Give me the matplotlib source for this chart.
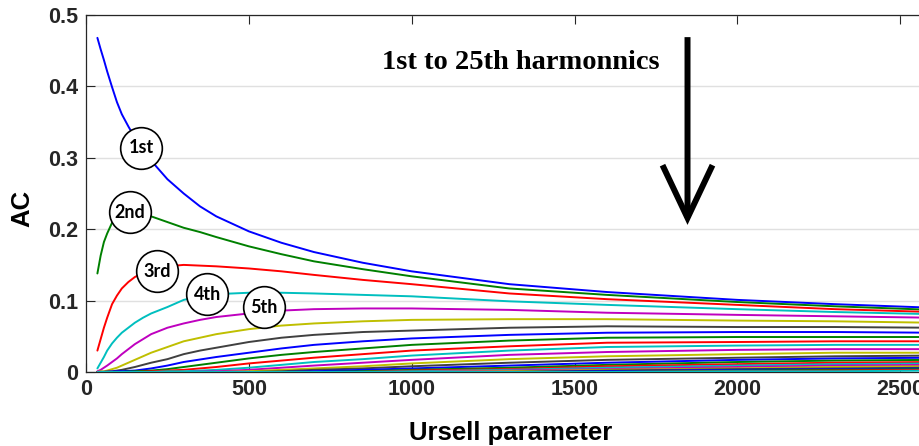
import matplotlib
matplotlib.use("Agg")
import matplotlib.pyplot as plt

# ---------------- data ----------------
# finer sampling for the low harmonics (strong curvature at small Ursell numbers)
ursell_a = [35, 45, 55, 65, 80, 95, 110, 130, 150, 175, 200, 250, 300, 350, 400, 500,
            600, 700, 850, 1000, 1300, 1600, 2000, 2300, 2600]
# coarser sampling for the higher harmonics
ursell_b = [35, 100, 150, 200, 250, 300, 400, 500, 600, 700, 850, 1000, 1300, 1600, 2000, 2300, 2600]

ac_h01 = [0.468, 0.452, 0.437, 0.421, 0.399, 0.378, 0.361, 0.344, 0.328, 0.311, 0.296, 0.270, 0.250,
          0.232, 0.218, 0.197, 0.181, 0.168, 0.153, 0.141, 0.123, 0.112, 0.101, 0.095, 0.090]
ac_h02 = [0.138, 0.163, 0.182, 0.194, 0.209, 0.216, 0.220, 0.222, 0.222, 0.221, 0.218, 0.210, 0.202,
          0.196, 0.189, 0.176, 0.165, 0.155, 0.144, 0.134, 0.117, 0.108, 0.098, 0.092, 0.087]
ac_h03 = [0.030, 0.046, 0.062, 0.076, 0.095, 0.107, 0.117, 0.126, 0.133, 0.139, 0.143, 0.148, 0.150,
          0.149, 0.148, 0.145, 0.141, 0.136, 0.129, 0.123, 0.110, 0.102, 0.094, 0.088, 0.084]
ac_h04 = [0.005, 0.013, 0.021, 0.030, 0.040, 0.048, 0.055, 0.062, 0.069, 0.076, 0.082, 0.091, 0.101,
          0.106, 0.109, 0.111, 0.111, 0.110, 0.108, 0.106, 0.099, 0.094, 0.088, 0.084, 0.081]
ac_h05 = [0.001, 0.003, 0.006, 0.009, 0.014, 0.019, 0.025, 0.032, 0.039, 0.046, 0.053, 0.062, 0.068,
          0.073, 0.077, 0.082, 0.086, 0.088, 0.089, 0.089, 0.087, 0.083, 0.080, 0.078, 0.076]
ac_h06 = [0.000, 0.001, 0.001, 0.002, 0.004, 0.006, 0.009, 0.013, 0.017, 0.022, 0.027, 0.035, 0.043,
          0.048, 0.053, 0.060, 0.065, 0.068, 0.071, 0.073, 0.074, 0.074, 0.072, 0.071, 0.069]
ac_h07 = [0.000, 0.000, 0.000, 0.0005, 0.001, 0.002, 0.003, 0.005, 0.007, 0.010, 0.013, 0.018, 0.025,
          0.030, 0.034, 0.042, 0.048, 0.052, 0.056, 0.058, 0.062, 0.064, 0.063, 0.063, 0.062]

ac_h08 = [0.000, 0.001, 0.002, 0.005, 0.009, 0.014, 0.021, 0.027, 0.033, 0.038, 0.043, 0.047, 0.052, 0.055, 0.056, 0.056, 0.055]
ac_h09 = [0.000, 0.000, 0.001, 0.002, 0.004, 0.007, 0.013, 0.019, 0.024, 0.028, 0.033, 0.038, 0.044, 0.048, 0.049, 0.049, 0.049]
ac_h10 = [0.000, 0.000, 0.000, 0.001, 0.002, 0.003, 0.007, 0.012, 0.016, 0.020, 0.025, 0.030, 0.036, 0.041, 0.042, 0.043, 0.043]
ac_h11 = [0.000, 0.000, 0.000, 0.000, 0.001, 0.001, 0.003, 0.006, 0.010, 0.014, 0.018, 0.023, 0.030, 0.035, 0.037, 0.038, 0.038]
ac_h12 = [0.000, 0.000, 0.000, 0.000, 0.000, 0.000, 0.001, 0.003, 0.006, 0.009, 0.013, 0.017, 0.024, 0.028, 0.031, 0.032, 0.032]
ac_h13 = [0.000, 0.000, 0.000, 0.000, 0.000, 0.000, 0.000, 0.001, 0.003, 0.005, 0.008, 0.012, 0.018, 0.022, 0.025, 0.027, 0.027]
ac_h14 = [0.000, 0.000, 0.000, 0.000, 0.000, 0.000, 0.000, 0.000, 0.001, 0.003, 0.005, 0.008, 0.013, 0.017, 0.020, 0.022, 0.023]
ac_h15 = [0.000, 0.000, 0.000, 0.000, 0.000, 0.000, 0.000, 0.000, 0.000, 0.001, 0.003, 0.005, 0.009, 0.013, 0.017, 0.019, 0.020]
ac_h16 = [0.000, 0.000, 0.000, 0.000, 0.000, 0.000, 0.000, 0.000, 0.000, 0.000, 0.001, 0.003, 0.006, 0.010, 0.014, 0.016, 0.017]
ac_h17 = [0.000, 0.000, 0.000, 0.000, 0.000, 0.000, 0.000, 0.000, 0.000, 0.000, 0.000, 0.002, 0.004, 0.008, 0.011, 0.013, 0.014]
ac_h18 = [0.000, 0.000, 0.000, 0.000, 0.000, 0.000, 0.000, 0.000, 0.000, 0.000, 0.000, 0.001, 0.003, 0.006, 0.009, 0.011, 0.012]
ac_h19 = [0.000, 0.000, 0.000, 0.000, 0.000, 0.000, 0.000, 0.000, 0.000, 0.000, 0.000, 0.000, 0.002, 0.004, 0.007, 0.009, 0.010]
ac_h20 = [0.000, 0.000, 0.000, 0.000, 0.000, 0.000, 0.000, 0.000, 0.000, 0.000, 0.000, 0.000, 0.001, 0.003, 0.005, 0.007, 0.008]
ac_h21 = [0.000, 0.000, 0.000, 0.000, 0.000, 0.000, 0.000, 0.000, 0.000, 0.000, 0.000, 0.000, 0.000, 0.002, 0.004, 0.005, 0.006]
ac_h22 = [0.000, 0.000, 0.000, 0.000, 0.000, 0.000, 0.000, 0.000, 0.000, 0.000, 0.000, 0.000, 0.000, 0.001, 0.003, 0.004, 0.005]
ac_h23 = [0.000, 0.000, 0.000, 0.000, 0.000, 0.000, 0.000, 0.000, 0.000, 0.000, 0.000, 0.000, 0.000, 0.000, 0.002, 0.003, 0.004]
ac_h24 = [0.000, 0.000, 0.000, 0.000, 0.000, 0.000, 0.000, 0.000, 0.000, 0.000, 0.000, 0.000, 0.000, 0.000, 0.001, 0.002, 0.003]
ac_h25 = [0.000, 0.000, 0.000, 0.000, 0.000, 0.000, 0.000, 0.000, 0.000, 0.000, 0.000, 0.000, 0.000, 0.000, 0.001, 0.001, 0.002]

low_harmonics = [ac_h01, ac_h02, ac_h03, ac_h04, ac_h05, ac_h06, ac_h07]
high_harmonics = [ac_h08, ac_h09, ac_h10, ac_h11, ac_h12, ac_h13, ac_h14, ac_h15, ac_h16,
                  ac_h17, ac_h18, ac_h19, ac_h20, ac_h21, ac_h22, ac_h23, ac_h24, ac_h25]

label_text = ["1st", "2nd", "3rd", "4th", "5th"]
label_x = [169, 135, 219, 372, 546]
label_y = [0.314, 0.224, 0.141, 0.109, 0.091]

x_ticks = [0, 500, 1000, 1500, 2000, 2500]
x_tick_labels = ["0", "500", "1000", "1500", "2000", "2500"]
y_ticks = [0, 0.1, 0.2, 0.3, 0.4, 0.5]
y_tick_labels = ["0", "0.1", "0.2", "0.3", "0.4", "0.5"]

annot_text = "1st to 25th harmonnics"
annot_x, annot_y = 1334, 0.433
arrow_x, arrow_top, arrow_bottom = 1847, 0.469, 0.206

# MATLAB (pre-2014) colour order
color_order = [(0, 0, 1), (0, 0.5, 0), (1, 0, 0), (0, 0.75, 0.75),
               (0.75, 0, 0.75), (0.75, 0.75, 0), (0.25, 0.25, 0.25)]

# ---------------- figure ----------------
fig = plt.figure(figsize=(9.2, 4.46), dpi=100)
ax = fig.add_axes([86 / 920, 74 / 446, 850 / 920, 357 / 446])

series = [(ursell_a, ys) for ys in low_harmonics] + [(ursell_b, ys) for ys in high_harmonics]
for i, (xs, ys) in enumerate(series):
    ax.plot(xs, ys, color=color_order[i % 7], lw=1.4, zorder=3 + i * 0.01,
            solid_joinstyle="round", solid_capstyle="round")

ax.set_xlim(0, 2610)
ax.set_ylim(0, 0.5)

axis_col = (0.15, 0.15, 0.15)
ax.set_xticks(x_ticks)
ax.set_xticklabels(x_tick_labels)
ax.set_yticks(y_ticks)
ax.set_yticklabels(y_tick_labels)
for lab in ax.get_xticklabels() + ax.get_yticklabels():
    lab.set_fontfamily("Liberation Sans")
    lab.set_fontweight("bold")
    lab.set_fontsize(15.5)
ax.tick_params(axis="both", direction="in", length=6.5, width=0.8, colors=axis_col,
               top=True, right=False)
ax.tick_params(axis="x", pad=5)
ax.tick_params(axis="y", pad=5.5)

ax.yaxis.grid(True, color=(0.88, 0.88, 0.88), lw=1.0, zorder=0)
ax.xaxis.grid(False)
ax.set_axisbelow(True)
for side in ["left", "top", "bottom"]:
    ax.spines[side].set_color(axis_col)
    ax.spines[side].set_linewidth(0.9)
ax.spines["right"].set_visible(False)

ax.set_xlabel("Ursell parameter", family="Liberation Sans", weight="bold",
              size=18.5, va="center", ha="center")
ax.xaxis.set_label_coords(0.5, -0.171)
ax.set_ylabel("AC", family="Liberation Sans", weight="bold", size=18.5,
              va="center", ha="center")
ax.yaxis.set_label_coords(-0.0753, 0.459)

# circle labels
ax.scatter(label_x, label_y, s=900, facecolor="white", edgecolor="black",
           linewidth=1.2, zorder=10, clip_on=False)
for t, lx, ly in zip(label_text, label_x, label_y):
    ax.text(lx, ly, t, family="Lato", weight="bold", size=13, color="black",
            ha="center", va="center", zorder=11)

# annotation text and arrow
ax.text(annot_x, annot_y, annot_text, family="Liberation Serif", weight="bold",
        size=20.5, ha="center", va="center", color="black", zorder=12)
ax.annotate("", xy=(arrow_x, arrow_bottom), xytext=(arrow_x, arrow_top),
            arrowprops=dict(arrowstyle="->,head_length=1.9,head_width=0.9",
                            lw=4.3, color="black", mutation_scale=20,
                            shrinkA=0, shrinkB=0, joinstyle="miter",
                            capstyle="butt"),
            zorder=12)

fig.savefig("out.png", dpi=100, facecolor="white")
